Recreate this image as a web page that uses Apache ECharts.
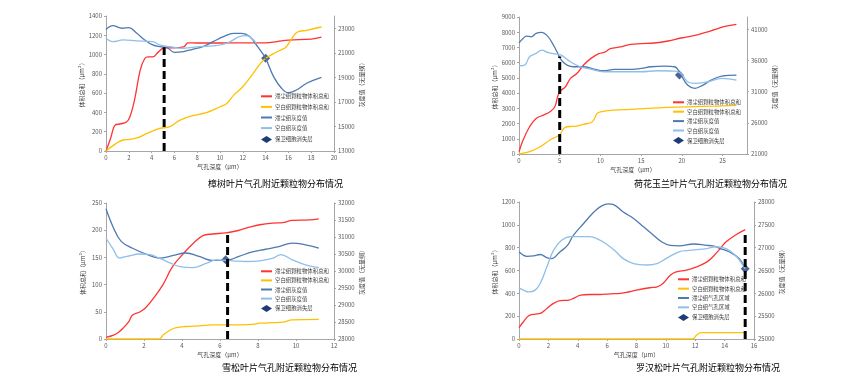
<!DOCTYPE html>
<html>
<head>
<meta charset="utf-8">
<script src="https://cdn.jsdelivr.net/npm/echarts@6/dist/echarts.min.js"></script>
<style>html,body{margin:0;padding:0;background:#fff}#main{width:865px;height:376px}</style>
</head>
<body>
<div id="main"></div>
<script>
// 樟树
var zhangRed = [[0,0],[0.4,130],[0.8,269],[1.2,280],[1.8,300],[2.1,355],[2.5,528],[3.0,838],[3.4,959],[3.7,976],[4.1,976],[4.6,1028],[5.1,1069],[5.9,1069],[6.8,1079],[7.2,1121],[8,1120],[10,1120],[12,1121],[14,1122],[15,1135],[16,1150],[18,1160],[18.9,1180]];
var zhangYellow = [[0,0],[0.9,79],[1.5,114],[2.1,120],[2.8,138],[3.6,183],[4.7,234],[5.6,252],[6.5,321],[7.6,366],[8.8,397],[10,459],[10.6,493],[11.2,579],[12,666],[12.9,803],[13.8,941],[14.7,1010],[15.4,1052],[15.8,1079],[16.4,1183],[16.8,1234],[17.6,1252],[18.9,1286]];
var zhangDark = [[0,22900],[0.6,23220],[1.4,23000],[2,23050],[2.7,22590],[3.4,22050],[4.1,21640],[4.7,21500],[5.3,21450],[6,21040],[6.8,21100],[7.6,21290],[8.5,21500],[9.4,21910],[10.3,22320],[11.2,22590],[11.9,22590],[12.6,22320],[13.3,21500],[14,20550],[14.7,19060],[15.4,18110],[16,17750],[16.7,17970],[17.6,18520],[18.9,19000]];
var zhangLight = [[0,22190],[0.6,21910],[1.5,22050],[2.7,21970],[4.1,21910],[4.7,21640],[5.6,21500],[6.8,21370],[8.2,21500],[9.4,21560],[10.6,21780],[11.7,22320],[12.3,22400],[13.2,21750]];
var zhangDiamond = [[14,20550]];
var zhangDash = [[5.1,0],[5.1,1075]];

// 荷花玉兰
var heRed = [[0,150],[0.5,917],[1.3,1790],[2.1,2336],[3,2555],[3.8,2773],[4.4,3100],[4.8,3865],[5.2,4192],[5.7,4410],[6.3,4956],[7.1,5284],[7.9,5830],[8.8,6266],[9.8,6594],[10.6,6703],[11.2,6921],[12.5,7031],[13.7,7205],[15,7249],[16.6,7293],[18.3,7424],[19.9,7620],[21.6,7795],[22.8,7970],[24,8166],[25.3,8384],[26.7,8515]];
var heYellow = [[0,0],[1.3,150],[2.6,480],[3.8,917],[4.6,1135],[5,1245],[5.5,1681],[5.9,1790],[7.1,1834],[7.9,1943],[9,2118],[9.6,2664],[10,2773],[11.7,2882],[13.7,2926],[15.8,2991],[18.3,3057],[20.7,3100],[24,3144],[26.7,3188]];
var heDark = [[0,38860],[0.5,39560],[0.9,39930],[1.5,39820],[2.1,40360],[2.8,40520],[3.4,40090],[4,39020],[4.6,37580],[5.2,36080],[5.9,35280],[6.7,35010],[7.9,35010],[9.2,34640],[10.4,34370],[11.7,34580],[13.3,34580],[15,34740],[16.2,35010],[17.9,35120],[19.1,35010],[19.9,33670],[20.7,32070],[21.6,31540],[22.6,32070],[23.6,32870],[24.9,33510],[26.7,33670]];
var heLight = [[0,35170],[0.7,35280],[1.3,36620],[2.1,37150],[2.8,37680],[3.6,37260],[4.6,37040],[5.2,36880],[6.3,35810],[7.5,35010],[8.8,34640],[10.4,34210],[12.5,34210],[15,34210],[17,34370],[19.1,34320],[19.9,33940],[20.7,32600],[21.6,32340],[23.2,32600],[24.9,33140],[26.7,32870]];
var heDiamond = [[19.7,33670]];
var heDash = [[5,0],[5,6400]];

// 雪松
var xueRed = [[0,3],[0.4,7],[0.65,12],[0.9,20],[1.2,32],[1.4,44],[1.8,50],[2.1,58],[2.5,75],[3,100],[3.5,133],[4.1,158],[4.6,176],[5.1,190],[5.6,193],[6.3,195],[6.9,199],[7.6,206],[8.1,210],[8.8,213],[9.3,214],[9.8,218],[10.7,219],[11.2,221]];
var xueYellow = [[0,0],[1.5,0],[2.8,0],[3,7],[3.4,17],[3.7,21],[4.2,23],[4.9,24],[5.6,26],[6.7,26],[7.7,27],[8.1,29],[8.8,30],[9.3,31],[9.8,35],[11.2,36]];
var xueDark = [[0,31830],[0.4,31260],[0.8,30870],[1.4,30670],[2.1,30500],[2.8,30380],[3.5,30450],[4.2,30530],[4.9,30430],[5.6,30310],[6.3,30310],[7,30430],[7.7,30560],[8.4,30640],[9.1,30720],[9.8,30820],[10.5,30770],[11.2,30670]];
var xueLight = [[0,30970],[0.4,30620],[0.7,30380],[1.1,30430],[1.8,30500],[2.3,30480],[2.8,30380],[3.4,30230],[3.9,30130],[4.6,30100],[5.3,30230],[5.8,30330],[6.7,30300],[7.4,30280],[8.1,30300],[8.8,30380],[9.2,30480],[9.8,30330],[10.5,30180],[11.2,30100]];
var xueDiamond = [[6.3,30330]];
var xueDash = [[6.4,0],[6.4,195]];

// 罗汉松
var luoRed = [[0,99],[0.3,151],[0.66,204],[1.1,218],[1.45,224],[1.9,268],[2.35,312],[2.8,336],[3.4,341],[3.7,355],[4.2,384],[4.8,390],[5.5,390],[6.2,396],[6.9,399],[7.3,408],[8,428],[8.9,449],[9.4,457],[9.8,486],[10.3,559],[10.7,588],[11.4,603],[12.1,632],[12.8,676],[13.2,720],[13.7,792],[14.1,851],[14.8,915],[15.4,958]];
var luoYellow = [[0,0],[6,0],[11.8,0],[12.1,35],[12.4,55],[13.2,55],[15.4,55]];
var luoDark = [[0,26910],[0.54,26810],[1,26820],[1.45,26850],[1.9,26780],[2.2,26760],[2.8,26910],[3.3,27050],[3.7,27270],[4.4,27530],[5.1,27780],[5.6,27910],[6.1,27960],[6.4,27950],[7.1,27780],[7.8,27640],[8.5,27450],[9.1,27290],[9.7,27130],[10.3,27050],[10.9,27040],[11.9,27080],[12.8,27050],[13.2,27040],[13.7,26980],[14.3,26910],[15,26760],[15.4,26540]];
var luoLight = [[0,26120],[0.3,26070],[0.66,26030],[1.1,26070],[1.45,26220],[1.9,26580],[2.35,26940],[2.9,27160],[3.5,27240],[4.2,27240],[4.8,27240],[5.3,27200],[6,27070],[6.6,26910],[7.1,26760],[7.8,26650],[8.7,26620],[9.4,26650],[10,26760],[10.9,26910],[11.6,26940],[12.8,26980],[13.4,27020],[14.1,26980],[14.7,26840],[15,26730],[15.4,26540]];
var luoDiamond = [[15.4,26540]];
var luoDash = [[15.4,0],[15.4,923]];

var volNames = ['滞尘组颗粒物体积总和','空白组颗粒物体积总和'];
var grayNames = ['滞尘组灰度值','空白组灰度值'];
var poreNames = ['滞尘组气孔区域','空白组气孔区域'];
var layerName = '保卫细胞消失层';

var panels = [
    {title:'樟树叶片气孔附近颗粒物分布情况', grid:[106,16,228,135], titlePos:[208,179], legendPos:[260,93.5], legendGap:5, rGap:24,
     x:[0,20,2,true], yl:[0,1400,200], yr:[13000,24000,2000,false],
     red:zhangRed, yellow:zhangYellow, dark:zhangDark, light:zhangLight, diamond:zhangDiamond, dash:zhangDash, names:grayNames},
    {title:'荷花玉兰叶片气孔附近颗粒物分布情况', grid:[519,17,228,137], titlePos:[634,179], legendPos:[672,99.5], legendGap:3.8, rGap:25,
     x:[0,28,5,false], yl:[0,9000,1000], yr:[21000,43000,5000,false],
     red:heRed, yellow:heYellow, dark:heDark, light:heLight, diamond:heDiamond, dash:heDash, names:grayNames},
    {title:'雪松叶片气孔附近颗粒物分布情况', grid:[106,203,228,136], titlePos:[222,363], legendPos:[260,268.5], legendGap:3.5, rGap:23,
     x:[0,12,2,true], yl:[0,250,50], yr:[28000,32000,500,true],
     red:xueRed, yellow:xueYellow, dark:xueDark, light:xueLight, diamond:xueDiamond, dash:xueDash, names:grayNames},
    {title:'罗汉松叶片气孔附近颗粒物分布情况', grid:[519,202,235,137], titlePos:[636,363], legendPos:[677,276.5], legendGap:3.75, rGap:22,
     x:[0,16,2,true], yl:[0,1200,200], yr:[25000,28000,500,true],
     red:luoRed, yellow:luoYellow, dark:luoDark, light:luoLight, diamond:luoDiamond, dash:luoDash, names:poreNames}
];

var font = 'Noto Sans CJK SC';
var axisColor = '#a6a6a6';
var plain = function(v){ return String(v); };
var labelStyle = {fontSize:6, color:'#595959', fontFamily:font, formatter:plain};
var nameStyle = {fontSize:6, color:'#404040', fontFamily:font};

var option = {
    backgroundColor:'#fff',
    animation:false,
    grid:[], xAxis:[], yAxis:[], legend:[], series:[], graphic:[]
};

panels.forEach(function(p, i){
    option.grid.push({left:p.grid[0], top:p.grid[1], width:p.grid[2], height:p.grid[3], outerBoundsMode:'none'});
    option.xAxis.push({
        gridIndex:i, type:'value', min:p.x[0], max:p.x[1], interval:p.x[2],
        name:'气孔深度（μm）', nameLocation:'middle', nameGap:13, nameTextStyle:nameStyle,
        axisLine:{show:true, onZero:false, lineStyle:{color:axisColor}},
        axisTick:{show:true, length:2, lineStyle:{color:axisColor}},
        axisLabel:Object.assign({margin:4, showMaxLabel:p.x[3]}, labelStyle),
        splitLine:{show:false}
    });
    option.yAxis.push({
        gridIndex:i, type:'value', position:'left', min:p.yl[0], max:p.yl[1], interval:p.yl[2],
        name:'体积总和（μm³）', nameLocation:'middle', nameGap:20, nameRotate:90, nameTextStyle:nameStyle,
        axisLine:{show:true, lineStyle:{color:axisColor}},
        axisTick:{show:true, length:2, lineStyle:{color:axisColor}},
        axisLabel:Object.assign({margin:4}, labelStyle),
        splitLine:{show:false}
    });
    option.yAxis.push({
        gridIndex:i, type:'value', position:'right', min:p.yr[0], max:p.yr[1], interval:p.yr[2],
        name:'灰度值（无量纲）', nameLocation:'middle', nameGap:p.rGap, nameRotate:90, nameTextStyle:nameStyle,
        axisLine:{show:true, lineStyle:{color:axisColor}},
        axisTick:{show:true, length:2, lineStyle:{color:axisColor}},
        axisLabel:Object.assign({margin:4, showMaxLabel:p.yr[3]}, labelStyle),
        splitLine:{show:false}
    });
    var ly = i * 2, ry = i * 2 + 1;
    function line(name, data, yIdx, color){
        return {name:name, type:'line', xAxisIndex:i, yAxisIndex:yIdx, data:data, smooth:0.4,
            symbol:'none', lineStyle:{color:color, width:1.3}, itemStyle:{color:color}};
    }
    option.series.push(line(volNames[0], p.red, ly, '#ff3333'));
    option.series.push(line(volNames[1], p.yellow, ly, '#ffc000'));
    option.series.push(line(p.names[0], p.dark, ry, '#4f79b0'));
    option.series.push(line(p.names[1], p.light, ry, '#8fbfe8'));
    option.series.push({name:'dash' + i, type:'line', xAxisIndex:i, yAxisIndex:ly, data:p.dash,
        symbol:'none', lineStyle:{color:'#000', width:3, type:[8,4]}});
    option.series.push({name:layerName, type:'scatter', xAxisIndex:i, yAxisIndex:ry, data:p.diamond,
        symbol:'diamond', symbolSize:9, itemStyle:{color:'#1f3c78'}});
    option.legend.push({
        orient:'vertical', left:p.legendPos[0], top:p.legendPos[1], padding:0,
        itemWidth:11, itemHeight:7, itemGap:p.legendGap, selectedMode:false,
        itemStyle:{opacity:0},
        textStyle:{fontSize:5.4, color:'#404040', fontFamily:font, padding:[0,0,0,-2]},
        data:[volNames[0], volNames[1], p.names[0], p.names[1],
            {name:layerName, itemStyle:{opacity:1}}]
    });
    option.graphic.push({type:'text', left:p.titlePos[0], top:p.titlePos[1],
        style:{text:p.title, font:'9px "' + font + '"', fill:'#000', textAlign:'center', textVerticalAlign:'middle'}});
});

var chart = echarts.init(document.getElementById('main'));
chart.setOption(option);
</script>
</body>
</html>
